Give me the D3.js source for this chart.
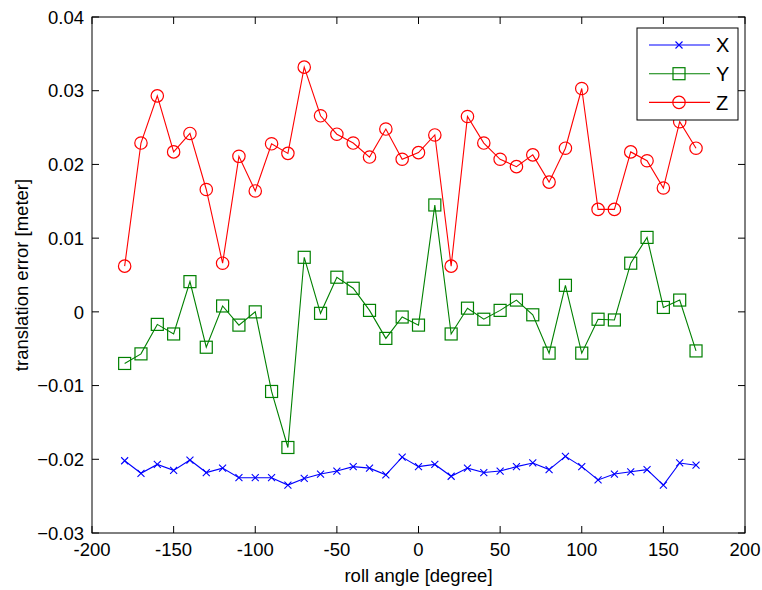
<!DOCTYPE html>
<html>
<head>
<meta charset="utf-8">
<script src="https://cdn.jsdelivr.net/npm/d3@7"></script>
<style>
  body { margin: 0; background: #fff; }
  text { font-family: "Liberation Sans", Arial, sans-serif; fill: #000; }
</style>
</head>
<body>
<svg id="chart"></svg>
<script>
// roll angle sweep, -180 .. 170 deg
const angles = [-180, -170, -160, -150, -140, -130, -120, -110, -100, -90, -80, -70, -60, -50, -40, -30, -20, -10,
                0, 10, 20, 30, 40, 50, 60, 70, 80, 90, 100, 110, 120, 130, 140, 150, 160, 170];

const errX = [-0.0202, -0.0219, -0.0207, -0.0215, -0.0201, -0.0218, -0.0212, -0.0225, -0.0225, -0.0225, -0.0235, -0.0226,
              -0.0220, -0.0216, -0.0210, -0.0212, -0.0221, -0.0197, -0.0210, -0.0207, -0.0223, -0.0212, -0.0218, -0.0216,
              -0.0210, -0.0205, -0.0214, -0.0196, -0.0210, -0.0228, -0.0220, -0.0217, -0.0214, -0.0235, -0.0205, -0.0208];

const errY = [-0.0070, -0.0057, -0.0017, -0.0030, 0.0041, -0.0048, 0.0008, -0.0018, 0.0000, -0.0108, -0.0184, 0.0074,
              -0.0002, 0.0047, 0.0032, 0.0002, -0.0036, -0.0007, -0.0018, 0.0145, -0.0030, 0.0005, -0.0010, 0.0002,
              0.0016, -0.0004, -0.0056, 0.0036, -0.0056, -0.0010, -0.0011, 0.0066, 0.0101, 0.0006, 0.0016, -0.0053];

const errZ = [0.0062, 0.0229, 0.0293, 0.0217, 0.0242, 0.0166, 0.0066, 0.0211, 0.0164, 0.0228, 0.0215, 0.0332,
              0.0266, 0.0241, 0.0229, 0.0210, 0.0248, 0.0207, 0.0216, 0.0240, 0.0062, 0.0265, 0.0229, 0.0207,
              0.0197, 0.0213, 0.0176, 0.0222, 0.0303, 0.0139, 0.0139, 0.0217, 0.0205, 0.0168, 0.0258, 0.0222];

const xTicks = [-200, -150, -100, -50, 0, 50, 100, 150, 200];
const yTicks = [-0.03, -0.02, -0.01, 0, 0.01, 0.02, 0.03, 0.04];

const seriesNames = ['X', 'Y', 'Z'];
const seriesColors = ['#0000ff', '#008000', '#ff0000'];
const seriesMarkers = ['cross', 'square', 'circle'];

const W = 762, H = 590;
const margin = { top: 17, right: 17, bottom: 57, left: 92 };
const width = W - margin.left - margin.right;
const height = H - margin.top - margin.bottom;

const svg = d3.select('#chart').attr('width', W).attr('height', H)
  .append('g')
    .attr('transform', `translate(${margin.left},${margin.top})`);

const x = d3.scaleLinear().domain([-200, 200]).range([0, width]);
const y = d3.scaleLinear().domain([-0.03, 0.04]).range([height, 0]);

const tickLen = 7;
const fmtY = d => d === 0 ? '0' : d3.format('.2f')(d);

// frame + ticks (MATLAB style, ticks inward on all four sides)
const axisG = svg.append('g');
axisG.append('rect')
  .attr('width', width).attr('height', height)
  .attr('fill', 'none').attr('stroke', '#000').attr('stroke-width', 1);

xTicks.forEach(t => {
  axisG.append('line').attr('x1', x(t)).attr('x2', x(t)).attr('y1', height).attr('y2', height - tickLen).attr('stroke', '#000');
  axisG.append('line').attr('x1', x(t)).attr('x2', x(t)).attr('y1', 0).attr('y2', tickLen).attr('stroke', '#000');
  axisG.append('text')
    .attr('x', x(t)).attr('y', height + 23)
    .attr('text-anchor', 'middle')
    .style('font-size', '18.5px')
    .text(t);
});

yTicks.forEach(t => {
  axisG.append('line').attr('x1', 0).attr('x2', tickLen).attr('y1', y(t)).attr('y2', y(t)).attr('stroke', '#000');
  axisG.append('line').attr('x1', width).attr('x2', width - tickLen).attr('y1', y(t)).attr('y2', y(t)).attr('stroke', '#000');
  axisG.append('text')
    .attr('x', -8).attr('y', y(t))
    .attr('dy', '0.36em')
    .attr('text-anchor', 'end')
    .style('font-size', '18.5px')
    .text(fmtY(t));
});

// axis labels
svg.append('text')
  .attr('x', width / 2).attr('y', height + 49)
  .attr('text-anchor', 'middle')
  .style('font-size', '18.5px')
  .text('roll angle [degree]');

svg.append('text')
  .attr('transform', 'rotate(-90)')
  .attr('x', -height / 2).attr('y', -64)
  .attr('text-anchor', 'middle')
  .style('font-size', '18.5px')
  .text('translation error [meter]');

// marker drawing helper
function drawMarker(g, type, cx, cy, color) {
  if (type === 'circle') {
    g.append('circle').attr('cx', cx).attr('cy', cy).attr('r', 6.2)
      .attr('fill', 'none').attr('stroke', color).attr('stroke-width', 1.2);
  } else if (type === 'square') {
    g.append('rect').attr('x', cx - 6).attr('y', cy - 6).attr('width', 12).attr('height', 12)
      .attr('fill', 'none').attr('stroke', color).attr('stroke-width', 1.2);
  } else {
    const s = 3.5;
    g.append('path').attr('d', `M${cx - s},${cy - s}L${cx + s},${cy + s}M${cx - s},${cy + s}L${cx + s},${cy - s}`)
      .attr('stroke', color).attr('stroke-width', 1.1);
  }
}

const line = d3.line()
  .x(d => x(d.a))
  .y(d => y(d.v));

[errX, errY, errZ].forEach((vals, i) => {
  const pts = angles.map((a, k) => ({ a, v: vals[k] }));
  const g = svg.append('g');
  g.append('path')
    .datum(pts)
    .attr('fill', 'none')
    .attr('stroke', seriesColors[i])
    .attr('stroke-width', 1.1)
    .attr('d', line);
  pts.forEach(p => drawMarker(g, seriesMarkers[i], x(p.a), y(p.v), seriesColors[i]));
});

// legend
const lg = svg.append('g').attr('transform', `translate(${637 - margin.left},${28 - margin.top})`);
lg.append('rect').attr('width', 101).attr('height', 92)
  .attr('fill', '#fff').attr('stroke', '#000').attr('stroke-width', 1);
seriesNames.forEach((name, i) => {
  const ry = 17 + i * 28.7;
  lg.append('line').attr('x1', 12).attr('x2', 73).attr('y1', ry).attr('y2', ry)
    .attr('stroke', seriesColors[i]).attr('stroke-width', 1.1);
  drawMarker(lg, seriesMarkers[i], 42, ry, seriesColors[i]);
  lg.append('text')
    .attr('x', 79).attr('y', ry).attr('dy', '0.36em')
    .style('font-size', '20px')
    .text(name);
});
</script>
</body>
</html>
